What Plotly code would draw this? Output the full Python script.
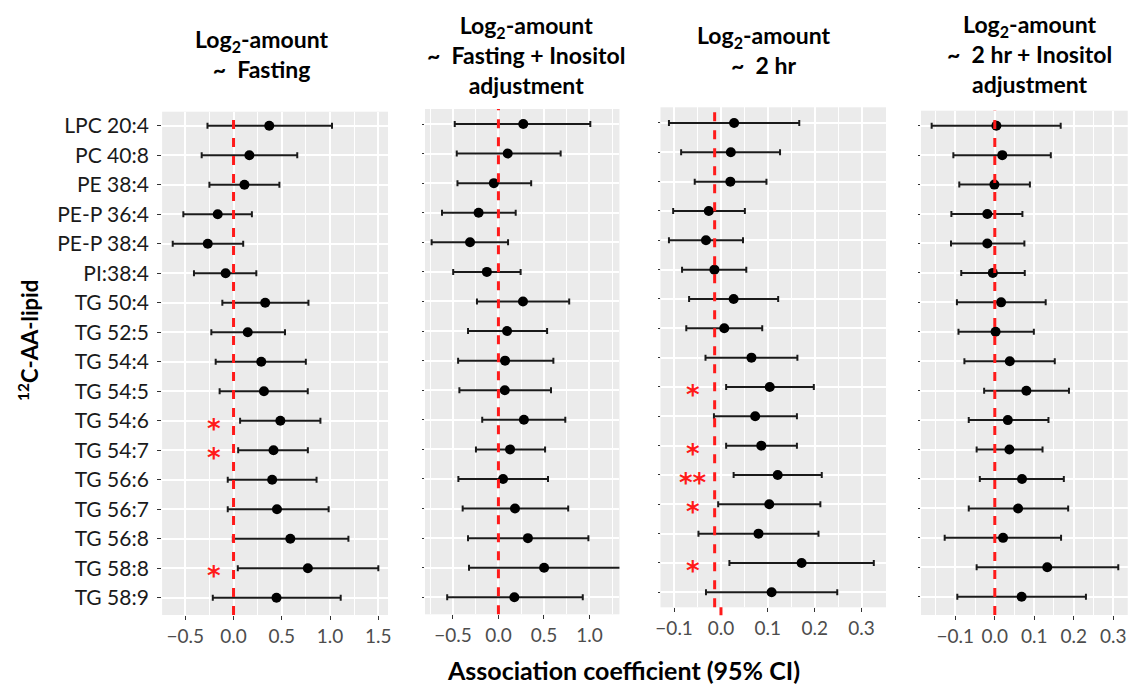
import plotly.graph_objects as go

lipids = ["LPC 20:4", "PC 40:8", "PE 38:4", "PE-P 36:4", "PE-P 38:4", "PI:38:4",
          "TG 50:4", "TG 52:5", "TG 54:4", "TG 54:5", "TG 54:6", "TG 54:7",
          "TG 56:6", "TG 56:7", "TG 56:8", "TG 58:8", "TG 58:9"]

# Log2-amount ~ Fasting
fast_est = [0.37, 0.164, 0.113, -0.164, -0.267, -0.082, 0.328, 0.147, 0.287,
            0.315, 0.485, 0.414, 0.40, 0.45, 0.588, 0.77, 0.445]
fast_lo = [-0.27, -0.33, -0.25, -0.52, -0.63, -0.41, -0.116, -0.23, -0.185,
           -0.144, 0.068, 0.048, -0.06, -0.06, -0.007, 0.044, -0.215]
fast_hi = [1.02, 0.66, 0.475, 0.19, 0.10, 0.236, 0.776, 0.533, 0.749,
           0.769, 0.90, 0.77, 0.86, 0.985, 1.19, 1.50, 1.11]
fast_sig = ["", "", "", "", "", "", "", "", "", "", "*", "*", "", "", "", "*", ""]

# Log2-amount ~ Fasting + Inositol adjustment
fadj_est = [0.273, 0.102, -0.05, -0.218, -0.312, -0.127, 0.27, 0.095, 0.073,
            0.07, 0.28, 0.128, 0.051, 0.182, 0.324, 0.502, 0.175]
fadj_lo = [-0.48, -0.458, -0.45, -0.62, -0.734, -0.497, -0.236, -0.334, -0.443,
           -0.429, -0.178, -0.247, -0.44, -0.393, -0.334, -0.323, -0.563]
fadj_hi = [1.01, 0.684, 0.36, 0.19, 0.106, 0.244, 0.778, 0.535, 0.604,
           0.578, 0.735, 0.513, 0.545, 0.767, 0.989, 1.36, 0.927]

# Log2-amount ~ 2 hr
hr2_est = [0.028, 0.021, 0.020, -0.026, -0.032, -0.014, 0.027, 0.007, 0.065,
           0.104, 0.073, 0.086, 0.121, 0.103, 0.080, 0.172, 0.108]
hr2_lo = [-0.111, -0.085, -0.056, -0.102, -0.111, -0.083, -0.068, -0.074, -0.033,
          0.011, -0.015, 0.011, 0.027, -0.006, -0.048, 0.018, -0.032]
hr2_hi = [0.167, 0.126, 0.097, 0.051, 0.047, 0.054, 0.122, 0.088, 0.163,
          0.198, 0.162, 0.162, 0.215, 0.212, 0.208, 0.326, 0.248]
hr2_sig = ["", "", "", "", "", "", "", "", "", "*", "", "*", "**", "*", "", "*", ""]

# Log2-amount ~ 2 hr + Inositol adjustment
hadj_est = [0.004, 0.019, -0.001, -0.019, -0.019, -0.005, 0.016, 0.002, 0.038,
            0.080, 0.033, 0.037, 0.069, 0.059, 0.021, 0.133, 0.068]
hadj_lo = [-0.160, -0.105, -0.09, -0.110, -0.111, -0.085, -0.096, -0.092, -0.077,
           -0.027, -0.066, -0.046, -0.038, -0.066, -0.127, -0.046, -0.095]
hadj_hi = [0.167, 0.142, 0.089, 0.070, 0.075, 0.076, 0.129, 0.099, 0.152,
           0.188, 0.136, 0.121, 0.175, 0.186, 0.168, 0.313, 0.231]

titles = ["Log<sub>2</sub>-amount<br>~  Fasting",
          "Log<sub>2</sub>-amount<br>~  Fasting + Inositol<br>adjustment",
          "Log<sub>2</sub>-amount<br>~  2 hr",
          "Log<sub>2</sub>-amount<br>~  2 hr + Inositol<br>adjustment"]

# the page body keeps its default 8px margin, so the figure is drawn 8px in
OFF = 8
W, H = 1130, 680
FONT = "Lato"


def px_x(p):
    return min(max((p - OFF) / W, 0), 1)


def px_y(p):
    return 1 - (p - OFF) / H


# pixel boxes of each panel in the window: (left, right, top, bottom)
boxes = [(158.3, 386, 111.7, 615), (423.3, 619.3, 109, 614.3),
         (660.7, 888, 107.3, 607.3), (923.3, 1131.7, 110.7, 615)]
xranges = [[-0.74, 1.6], [-0.807, 1.33], [-0.129, 0.352], [-0.187, 0.337]]
yranges = [[16.586, -0.475], [16.575, -0.507], [16.511, -0.535], [16.62, -0.51]]
ref_x = [0, 0, -0.0135, 0]
sig_x = [-0.2, None, -0.06, None]
title_cx = [258, 525, 765, 1033]
title_cy = [54, 55, 50, 54]
panels = [(fast_est, fast_lo, fast_hi, fast_sig),
          (fadj_est, fadj_lo, fadj_hi, None),
          (hr2_est, hr2_lo, hr2_hi, hr2_sig),
          (hadj_est, hadj_lo, hadj_hi, None)]

fig = go.Figure()
shapes = []
annotations = []

for i, (est, lo, hi, sig) in enumerate(panels):
    n = i + 1
    xa = "x" if n == 1 else f"x{n}"
    ya = "y" if n == 1 else f"y{n}"
    l, r, t, b = boxes[i]

    fig.add_trace(go.Scatter(
        x=est, y=lipids, xaxis=xa, yaxis=ya, mode="markers",
        marker=dict(color="black", size=10),
        error_x=dict(type="data", symmetric=False,
                     array=[h - e for h, e in zip(hi, est)],
                     arrayminus=[e - lo_ for e, lo_ in zip(est, lo)],
                     color="#1a1a1a", thickness=2, width=3),
        showlegend=False, cliponaxis=True,
    ))

    # significance stars
    if sig is not None:
        for lip, s in zip(lipids, sig):
            if s:
                annotations.append(dict(
                    text=f"<b>{s}</b>", x=sig_x[i], y=lip, xref=xa, yref=ya,
                    showarrow=False, xanchor="center", yanchor="middle", yshift=-8,
                    font=dict(color="#ff1a1a", size=26, family="DejaVu Sans")))

    shapes.append(dict(type="line", xref=xa, yref=f"{ya} domain",
                       x0=ref_x[i], x1=ref_x[i], y0=0, y1=1,
                       line=dict(color="#ff1a1a", width=3, dash="dash"), layer="above"))

    major = 0.5 if i < 2 else 0.1
    xkw = dict(domain=[px_x(l), px_x(r)], range=xranges[i], anchor=ya,
               dtick=major, tick0=0, showgrid=True, gridcolor="white", gridwidth=2,
               minor=dict(dtick=major / 2, tick0=0, showgrid=True,
                          gridcolor="white", gridwidth=1),
               zeroline=False, ticks="outside", ticklen=4, tickcolor="#333",
               tickfont=dict(size=19, color="#4d4d4d", family=FONT),
               showline=False, tickformat=".1f", fixedrange=True)
    ykw = dict(domain=[px_y(b), px_y(t)], range=yranges[i], anchor=xa,
               type="category", categoryorder="array", categoryarray=lipids,
               showgrid=True, gridcolor="white", gridwidth=2, zeroline=False,
               ticks="outside", ticklen=4 if i == 0 else 2, tickcolor="#333",
               showticklabels=(i == 0), ticklabelstandoff=4,
               tickfont=dict(size=21, color="#1a1a1a", family=FONT),
               fixedrange=True)
    fig.update_layout(**{("xaxis" if n == 1 else f"xaxis{n}"): xkw,
                         ("yaxis" if n == 1 else f"yaxis{n}"): ykw})

    annotations.append(dict(text=f"<b>{titles[i]}</b>", xref="paper", yref="paper",
                            x=px_x(title_cx[i]), y=px_y(title_cy[i]),
                            xanchor="center", yanchor="middle", showarrow=False,
                            align="center",
                            font=dict(size=23, color="black", family=FONT)))

# red tick left under the 0.0 mark of the 2 hr panel
shapes.append(dict(type="line", xref="x3", yref="y3 domain", x0=0, x1=0,
                   y0=-0.016, y1=0, line=dict(color="#ff1a1a", width=3)))

annotations.append(dict(text="<b><sup>12</sup>C-AA-lipid</b>", xref="paper", yref="paper",
                        x=px_x(23), y=px_y(340), textangle=-90, showarrow=False,
                        xanchor="center", yanchor="middle",
                        font=dict(size=22, color="black", family=FONT)))
annotations.append(dict(text="<b>Association coefficient (95% CI)</b>", xref="paper",
                        yref="paper", x=px_x(623), y=px_y(670), showarrow=False,
                        xanchor="center", yanchor="middle",
                        font=dict(size=25, color="black", family=FONT)))

fig.update_layout(
    width=W, height=H,
    margin=dict(l=0, r=0, t=0, b=0),
    paper_bgcolor="white",
    plot_bgcolor="#ebebeb",
    shapes=shapes,
    annotations=annotations,
)

fig.write_html("out.html")
